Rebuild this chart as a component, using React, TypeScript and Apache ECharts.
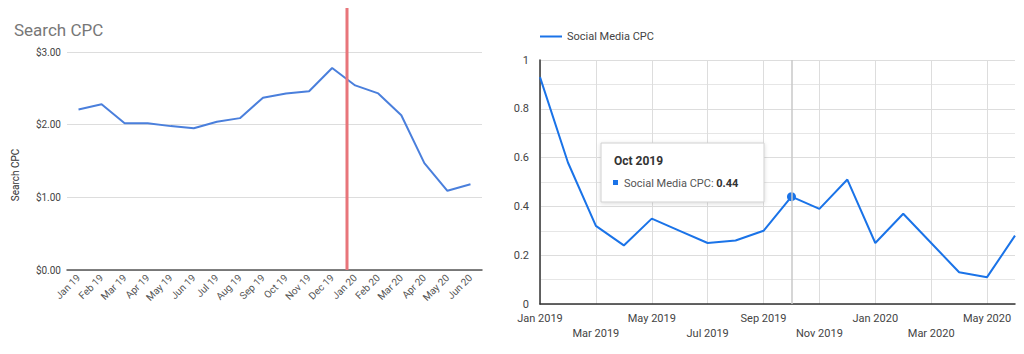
import React, { useEffect, useRef } from "react";
import * as echarts from "echarts";

const searchMonths = ["Jan 19","Feb 19","Mar 19","Apr 19","May 19","Jun 19","Jul 19","Aug 19","Sep 19","Oct 19","Nov 19","Dec 19","Jan 20","Feb 20","Mar 20","Apr 20","May 20","Jun 20"];
const searchCpc = [2.21,2.28,2.02,2.02,1.98,1.95,2.04,2.09,2.37,2.43,2.46,2.78,2.54,2.43,2.13,1.47,1.09,1.18];
const searchTicks = [0, 1, 2, 3];

const socialMonths = ["Jan 2019","Feb 2019","Mar 2019","Apr 2019","May 2019","Jun 2019","Jul 2019","Aug 2019","Sep 2019","Oct 2019","Nov 2019","Dec 2019","Jan 2020","Feb 2020","Mar 2020","Apr 2020","May 2020","Jun 2020"];
const socialCpc = [0.93,0.58,0.32,0.24,0.35,0.30,0.25,0.26,0.30,0.44,0.39,0.51,0.25,0.37,0.25,0.13,0.11,0.28];
const hoverIndex = 9;

export default function App() {
  const ref = useRef<HTMLDivElement>(null);
  useEffect(() => {
    if (!ref.current) return;
    const chart = echarts.init(ref.current, null, { renderer: "svg" });
    const blue = "#1a73e8";
    chart.setOption({
      animation: false,
      textStyle: { fontFamily: "Roboto" },
      title: {
        text: "Search CPC",
        left: 9,
        top: 16,
        textStyle: { fontSize: 17, fontWeight: "normal", color: "#777", fontFamily: "Roboto" },
      },
      legend: {
        data: ["Social Media CPC"],
        left: 540,
        top: 31,
        padding: 0,
        icon: "rect",
        itemWidth: 22,
        itemHeight: 2,
        itemGap: 10,
        textStyle: { fontSize: 11, color: "#444" },
      },
      grid: [
        { left: 67, right: 542, top: 52, bottom: 84 },
        { left: 540, right: 9, top: 60, bottom: 50 },
      ],
      xAxis: [
        {
          gridIndex: 0,
          type: "category",
          data: searchMonths,
          boundaryGap: true,
          axisLine: { lineStyle: { color: "#555", width: 1.5 } },
          axisTick: { show: false },
          axisLabel: { rotate: 45, interval: 0, fontSize: 10, color: "#555", margin: 6 },
          splitLine: { show: false },
        },
        {
          gridIndex: 1,
          type: "category",
          data: socialMonths,
          boundaryGap: false,
          axisLine: { lineStyle: { color: "#333", width: 1.5 } },
          axisTick: { show: false },
          axisLabel: {
            interval: 1,
            fontSize: 11,
            color: "#444",
            margin: 7,
            lineHeight: 15,
            formatter: (v: string, i: number) => (i % 4 === 2 ? "\n" + v : v),
          },
          splitLine: { show: true, interval: 1, lineStyle: { color: "#ddd" } },
        },
      ],
      yAxis: [
        {
          gridIndex: 0,
          type: "value",
          min: searchTicks[0],
          max: searchTicks[searchTicks.length - 1],
          interval: 1,
          name: "Search CPC",
          nameLocation: "middle",
          nameGap: 47,
          nameTextStyle: { fontSize: 10, color: "#333", padding: [0, 28, 0, 0] },
          axisLine: { show: false },
          axisTick: { show: false },
          axisLabel: { fontSize: 10, color: "#444", margin: 6, formatter: (v: number) => "$" + v.toFixed(2) },
          splitLine: { lineStyle: { color: "#ddd" } },
        },
        {
          gridIndex: 1,
          type: "value",
          min: 0,
          max: 1,
          interval: 0.2,
          axisLine: { show: true, lineStyle: { color: "#333", width: 1.5 } },
          axisTick: { show: false },
          axisLabel: { fontSize: 11, color: "#444", margin: 11 },
          splitLine: { lineStyle: { color: "#ddd" } },
          minorTick: { show: false, splitNumber: 2 },
          minorSplitLine: { show: true, lineStyle: { color: "#e6e6e6" } },
        },
      ],
      series: [
        {
          name: "Search CPC",
          type: "line",
          xAxisIndex: 0,
          yAxisIndex: 0,
          data: searchCpc,
          showSymbol: false,
          lineStyle: { color: "#4a7fdc", width: 2 },
          itemStyle: { color: "#4a7fdc" },
        },
        {
          name: "Social Media CPC",
          type: "line",
          xAxisIndex: 1,
          yAxisIndex: 1,
          data: socialCpc.map((v, i) =>
            i === hoverIndex
              ? { value: v, symbol: "circle", symbolSize: 9 }
              : { value: v, symbol: "none" }
          ),
          showSymbol: true,
          lineStyle: { color: blue, width: 2 },
          itemStyle: { color: blue },
          markLine: {
            silent: true,
            symbol: "none",
            label: { show: false },
            lineStyle: { color: "#c8c8c8", type: "solid", width: 1.5 },
            data: [{ xAxis: socialMonths[hoverIndex] }],
          },
        },
      ],
      graphic: [
        {
          type: "line",
          z: 100,
          zlevel: 1,
          shape: { x1: 347, y1: 8, x2: 347, y2: 270 },
          style: { stroke: "#e8757a", lineWidth: 3 },
        },
        {
          type: "rect",
          z: 100,
          zlevel: 1,
          shape: { x: 601, y: 143, width: 163, height: 59 },
          style: { fill: "#fff", stroke: "#d0d0d0", lineWidth: 1, shadowBlur: 4, shadowColor: "rgba(0,0,0,0.15)", shadowOffsetY: 1 },
        },
        {
          type: "text",
          z: 101,
          zlevel: 1,
          x: 614,
          y: 161,
          style: {
            text: socialMonths[hoverIndex],
            fontSize: 12,
            fontWeight: "bold",
            fontFamily: "Roboto",
            fill: "#333",
            verticalAlign: "middle",
          },
        },
        {
          type: "rect",
          z: 101,
          zlevel: 1,
          shape: { x: 613, y: 180, width: 5, height: 5 },
          style: { fill: blue },
        },
        {
          type: "text",
          z: 101,
          zlevel: 1,
          x: 624,
          y: 183,
          style: {
            text: "Social Media CPC: {b|" + socialCpc[hoverIndex].toFixed(2) + "}",
            fontSize: 11,
            fontFamily: "Roboto",
            fill: "#555",
            verticalAlign: "middle",
            rich: { b: { fontSize: 11, fontWeight: "bold", fill: "#333", fontFamily: "Roboto" } },
          },
        },
      ],
    });
    return () => chart.dispose();
  }, []);
  return (
    <div
      ref={ref}
      style={{ position: "fixed", left: 0, top: 0, width: 1024, height: 354, background: "#fff" }}
    />
  );
}
